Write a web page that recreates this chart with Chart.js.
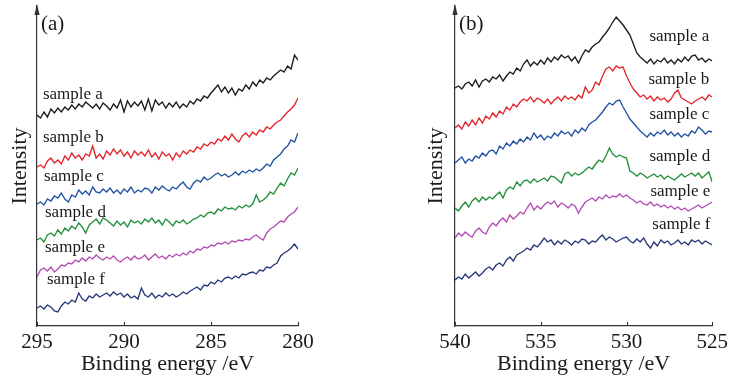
<!DOCTYPE html>
<html>
<head>
<meta charset="utf-8">
<script src="https://cdn.jsdelivr.net/npm/chart.js@4/dist/chart.umd.min.js"></script>
<style>
  html, body { margin: 0; padding: 0; background: #fff; }
  #wrap { position: relative; width: 732px; height: 377px; }
  .pane { position: absolute; top: 0; width: 366px; height: 377px; }
</style>
</head>
<body>
<div id="wrap">
  <div class="pane" style="left:0"><canvas id="c1s"></canvas></div>
  <div class="pane" style="left:366px"><canvas id="o1s"></canvas></div>
</div>
<script>
// ---- Panel (a): C 1s region, 295 -> 280 eV, 0.2 eV steps (76 points) ----
const energyA = Array.from({ length: 76 }, (_, i) => +(295 - i * 0.2).toFixed(1));
const ticksA = [295, 290, 285, 280];

const c1sA = [211,208,214,209,217,213,218,214,219,216, 221,217,222,219,224,221,218,222,217,223,
              220,216,222,218,226,214,225,219,224,220, 225,216,227,215,226,221,224,218,223,219,
              224,218,222,219,225,222,227,225,230,228, 233,237,241,234,239,233,238,231,237,235,
              241,237,244,240,246,243,248,246,250,253, 256,254,260,257,271,266];
const c1sB = [159,161,158,165,168,163,166,162,170,166, 173,168,171,166,172,170,180,168,172,167,
              175,171,177,172,176,170,174,168,175,171, 174,170,176,169,173,167,174,170,172,166,
              173,169,175,172,176,174,179,177,182,180, 184,182,187,185,190,186,192,187,184,190,
              193,189,194,191,196,194,199,197,201,204, 206,210,214,217,221,228];
const c1sC = [122,124,121,127,125,130,128,133,127,124, 131,129,136,132,135,131,139,134,133,137,
              134,138,133,136,132,137,134,139,133,136, 134,138,137,133,139,136,140,137,135,139,
              137,141,144,139,137,143,146,144,149,146, 148,151,153,150,152,149,151,154,151,155,
              153,156,154,157,155,158,162,160,166,169, 172,177,180,186,184,193];
const c1sD = [86,88,84,91,93,90,96,92,98,95, 100,97,103,99,93,101,104,107,102,108,
              106,103,100,105,101,104,99,106,103,105, 102,107,104,108,103,106,101,107,104,100,
              105,103,106,102,104,107,108,111,109,113, 114,112,117,115,119,117,118,116,120,118,
              121,119,122,131,124,126,129,134,132,138, 143,140,147,153,151,158];
const c1sE = [49,56,58,55,59,54,57,61,60,63, 62,66,64,68,65,69,67,71,68,66,
              69,67,70,66,64,67,69,66,70,67, 68,71,66,69,72,68,70,67,71,69,
              72,70,73,71,75,73,77,76,79,78, 81,80,83,82,84,82,85,84,86,85,
              87,86,89,91,88,86,93,97,99,102, 105,104,109,112,114,119];
const c1sF = [18,20,17,21,19,15,14,20,24,22, 26,24,33,27,25,30,28,32,29,31,
              33,30,34,31,33,29,32,28,30,27, 38,31,29,33,28,31,29,33,30,32,
              29,31,34,32,35,37,39,36,41,40, 44,42,46,44,48,49,47,50,48,52,
              51,53,54,52,56,55,59,58,61,63, 70,73,75,78,82,77];

// ---- Panel (b): O 1s region, 540 -> 525 eV, 0.2 eV steps (76 points) ----
const energyB = Array.from({ length: 76 }, (_, i) => +(540 - i * 0.2).toFixed(1));
const ticksB = [540, 535, 530, 525];

const o1sA = [238,240,237,242,244,240,246,239,245,247, 244,249,247,251,245,250,254,252,258,255,
              262,266,260,264,261,266,262,268,264,269, 266,271,268,270,265,269,263,270,276,274,
              279,282,284,289,293,298,304,309,305,301, 296,291,282,273,269,266,263,267,262,266,
              264,268,263,266,262,267,264,269,265,270, 271,266,268,264,267,265];
const o1sB = [198,201,197,204,200,206,201,208,203,210, 207,213,209,215,212,219,216,222,219,224,
              227,225,229,224,228,226,223,227,222,226, 229,225,230,227,229,226,231,228,239,233,
              236,244,241,250,257,259,255,260,258,259, 250,243,237,233,229,231,227,230,225,229,
              226,228,224,227,233,236,228,226,224,222, 225,227,229,226,231,229];
const o1sC = [163,166,169,163,167,165,170,168,173,170, 175,176,172,180,177,183,180,185,182,187,
              184,189,186,193,188,191,186,190,188,193, 190,195,192,194,190,196,193,198,195,201,
              204,206,210,214,219,223,221,225,226,219, 213,207,203,199,195,192,189,193,190,194,
              192,196,191,194,190,193,189,192,190,195, 193,199,196,192,195,194];
const o1sD = [118,115,120,124,119,125,128,124,129,126, 129,127,131,134,128,136,139,137,144,140,
              145,146,143,147,144,146,148,145,150,149, 146,143,152,154,150,153,151,153,156,159,
              157,162,166,164,170,178,172,169,171,169, 168,155,153,150,153,151,148,150,152,149,
              151,147,150,148,146,149,152,149,151,153, 150,153,148,151,154,144];
const o1sE = [88,93,90,94,91,89,95,98,94,92, 99,103,100,105,108,104,111,107,110,114,
              112,118,123,116,120,117,121,124,122,125, 119,123,121,118,122,120,113,119,124,126,
              128,125,129,127,131,128,130,129,132,129, 131,128,126,123,125,122,121,124,120,122,
              119,121,118,120,117,119,116,118,115,117, 119,121,118,120,122,124];
const o1sF = [46,49,47,52,48,51,54,50,53,57, 59,56,61,63,60,66,69,65,71,73,
              75,78,76,81,79,83,88,84,86,81, 85,82,86,84,81,85,83,87,86,82,
              85,84,88,91,86,89,87,84,86,88, 89,85,83,87,84,88,82,78,84,80,
              86,83,85,81,83,86,82,84,81,86, 84,86,82,85,83,81];

const sampleNames = ['sample a', 'sample b', 'sample c', 'sample d', 'sample e', 'sample f'];
const lineColors = ['#1c1c1c', '#e3262c', '#2253a3', '#22903c', '#b24db2', '#27397a'];

// where each curve's name sits: [energy, intensity]
const namePosA = [[294.66, 231], [294.66, 188], [294.6, 149], [294.54, 113], [294.54, 78], [294.43, 46]];
const namePosB = [[525.17, 289], [525.17, 246], [525.17, 211], [525.11, 169], [525.11, 134], [525.11, 101]];

const SERIF = '"Liberation Serif", "DejaVu Serif", serif';
const AXIS_COLOR = '#333';
const TEXT_COLOR = '#1a1a1a';

function makeDatasets(energy, seriesList) {
  return seriesList.map((vals, k) => ({
    label: sampleNames[k],
    data: vals.map((v, i) => ({ x: energy[i], y: v })),
    borderColor: lineColors[k],
    borderWidth: 1.35,
    pointRadius: 0,
    tension: 0,
    fill: false
  }));
}

// arrowhead on the intensity axis, inward tick marks, panel tag and curve names
const decorations = {
  id: 'decorations',
  afterDraw(chart, args, opts) {
    const { ctx, chartArea } = chart;
    const xs = chart.scales.x, ys = chart.scales.y;
    ctx.save();
    // arrowhead at the top of the y axis
    const ax = chartArea.left;
    ctx.fillStyle = AXIS_COLOR;
    ctx.beginPath();
    ctx.moveTo(ax, chartArea.top - 2);
    ctx.lineTo(ax - 2.6, chartArea.top + 9);
    ctx.lineTo(ax + 2.6, chartArea.top + 9);
    ctx.closePath();
    ctx.fill();
    // tick marks pointing into the plot
    ctx.strokeStyle = AXIS_COLOR;
    ctx.lineWidth = 1.1;
    opts.ticks.forEach(t => {
      const px = Math.round(xs.getPixelForValue(t)) + 0.5;
      ctx.beginPath();
      ctx.moveTo(px, chartArea.bottom);
      ctx.lineTo(px, chartArea.bottom - 4);
      ctx.stroke();
    });
    // panel tag
    ctx.fillStyle = TEXT_COLOR;
    ctx.font = '21px ' + SERIF;
    ctx.textAlign = 'left';
    ctx.textBaseline = 'middle';
    ctx.fillText(opts.tag, chartArea.left + 4, chartArea.top + 18);
    // curve names
    ctx.font = '17px ' + SERIF;
    ctx.textAlign = opts.nameAlign;
    opts.names.forEach((p, k) => {
      ctx.fillText(sampleNames[k], xs.getPixelForValue(p[0]), ys.getPixelForValue(p[1]));
    });
    ctx.restore();
  }
};

function makeChart(id, energy, seriesList, ticks, yWidth, yTitlePad, rightPad, tag, names, nameAlign) {
  const lo = Math.min(...ticks), hi = Math.max(...ticks);
  return new Chart(document.getElementById(id), {
    type: 'line',
    data: { datasets: makeDatasets(energy, seriesList) },
    options: {
      responsive: false,
      animation: false,
      events: [],
      layout: { padding: { top: 6, right: rightPad, bottom: 0, left: 0 } },
      plugins: {
        legend: { display: false },
        tooltip: { enabled: false },
        decorations: { ticks, tag, names, nameAlign }
      },
      scales: {
        x: {
          type: 'linear',
          reverse: true,
          min: lo,
          max: hi,
          afterBuildTicks: s => { s.ticks = ticks.map(v => ({ value: v })); },
          afterFit: s => { s.height = 51; },
          grid: { display: false, drawTicks: false },
          border: { display: true, color: AXIS_COLOR, width: 1.2 },
          ticks: { color: TEXT_COLOR, font: { family: SERIF, size: 21 }, padding: 4, maxRotation: 0 },
          title: {
            display: true,
            text: 'Binding energy /eV',
            color: TEXT_COLOR,
            font: { family: SERIF, size: 22 },
            padding: { top: 0, bottom: 0 }
          }
        },
        y: {
          type: 'linear',
          min: 0,
          max: 320,
          afterFit: s => { s.width = yWidth; },
          grid: { display: false, drawTicks: false },
          border: { display: true, color: AXIS_COLOR, width: 1.2 },
          ticks: { display: false },
          title: {
            display: true,
            text: 'Intensity',
            color: TEXT_COLOR,
            font: { family: SERIF, size: 22 },
            padding: { top: yTitlePad, bottom: 0 }
          }
        }
      }
    },
    plugins: [decorations]
  });
}

function sizeCanvas(id) {
  const c = document.getElementById(id);
  c.width = 366; c.height = 377;
  c.style.width = '366px'; c.style.height = '377px';
}
sizeCanvas('c1s');
sizeCanvas('o1s');

makeChart('c1s', energyA, [c1sA, c1sB, c1sC, c1sD, c1sE, c1sF], ticksA, 37, 7, 68, '(a)', namePosA, 'left');
makeChart('o1s', energyB, [o1sA, o1sB, o1sC, o1sD, o1sE, o1sF], ticksB, 89, 57, 17, '(b)', namePosB, 'right');
</script>
</body>
</html>
